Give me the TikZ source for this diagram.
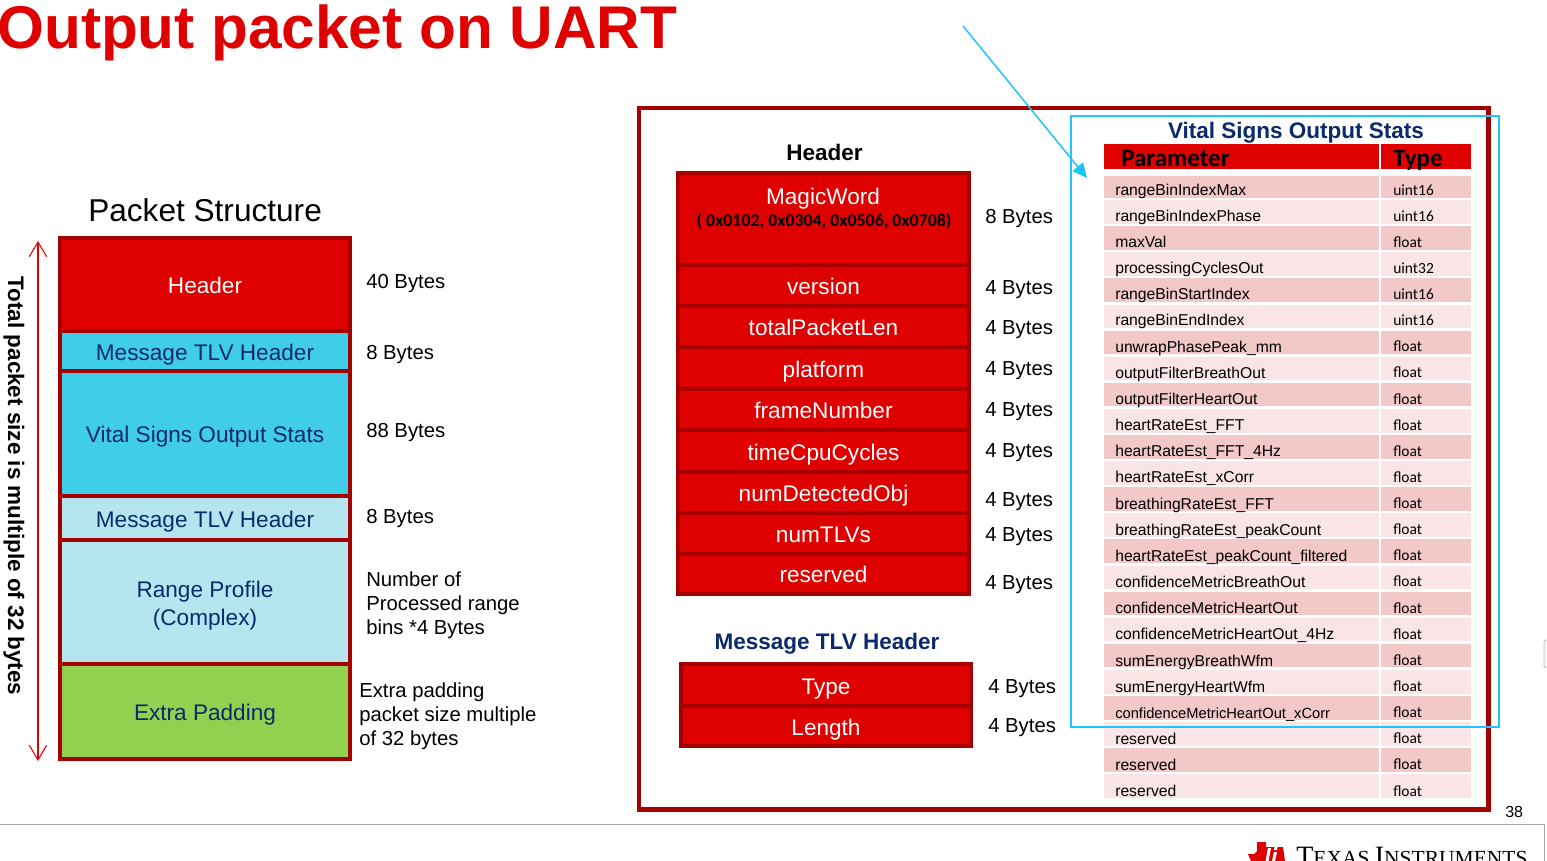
\documentclass[tikz,border=0pt]{standalone}
\usepackage{fontspec}
\setmainfont{Liberation Sans}
\newfontfamily\carl{Carlito}
\newfontfamily\serf{Liberation Serif}
\usetikzlibrary{arrows.meta}
\definecolor{tired}{HTML}{DF0000}
\definecolor{tidark}{HTML}{A50000}
\definecolor{ticyan}{HTML}{3FCDE8}
\definecolor{tilight}{HTML}{B5E5EF}
\definecolor{tigreen}{HTML}{92D14F}
\definecolor{tinavy}{HTML}{0B2A6B}
\definecolor{rowa}{HTML}{F2C8C8}
\definecolor{rowb}{HTML}{F9E5E5}
\definecolor{linecyan}{HTML}{1AC6FF}
\newcommand\px[1]{\fontsize{\fpeval{#1*0.75}pt}{\fpeval{#1*0.9}pt}\selectfont}
\newcommand\bx[7]{%
  \pgfmathsetmacro\bxw{(#4-#2)*0.75}%
  \pgfmathsetmacro\bxh{(#5-#3)*0.75}%
  \node[#6,minimum width=\bxw pt,minimum height=\bxh pt] (#1) at ({(#2+#4)/2},{(#3+#5)/2}) {#7};}
\tikzset{
  cell/.style={draw=tidark,line width=3pt,inner sep=0pt,outer sep=0pt,align=center,font=\px{22.6},text height=13.5pt,text depth=0pt},
  redcell/.style={cell,fill=tired,text=white},
  cyancell/.style={cell,fill=ticyan,text=tinavy},
  lightcell/.style={cell,fill=tilight,text=tinavy},
  greencell/.style={cell,fill=tigreen,text=tinavy},
  lbl/.style={anchor=base west,inner sep=0pt,font=\px{20.3},text=black},
  rowcell/.style={inner sep=0pt,outer sep=0pt},
  parm/.style={anchor=base west,inner sep=0pt,font=\px{15.7}},
  typ/.style={anchor=base west,inner sep=0pt,font=\carl\px{15.5}},
  headtxt/.style={anchor=base west,inner sep=0pt,font=\carl\bfseries\px{25}},
  ttl/.style={anchor=base,inner sep=0pt,font=\bfseries\px{22.5}},
}
\begin{document}
\begin{tikzpicture}[x=0.75pt,y=-0.75pt]
\useasboundingbox (0,0) rectangle (1547,861);
\clip (0,0) rectangle (1547,861);
\fill[white] (0,0) rectangle (1547,861);
% title
\node[anchor=base west,inner sep=0pt,text=tired,font=\bfseries\px{60.3}] (title) at (-3,48.5) {Output packet on UART};
% left stack
\node[anchor=base west,inner sep=0pt,font=\px{31.6}] (pstitle) at (88,221) {Packet Structure};
\bx{lhdr}{60}{238}{350}{331}{redcell}{Header}
\bx{lmsg}{60}{331}{350}{371}{cyancell}{Message TLV Header}
\bx{lvit}{60}{371}{350}{496}{cyancell}{Vital Signs Output Stats}
\bx{lmsgb}{60}{496}{350}{540}{lightcell}{Message TLV Header}
\bx{lrng}{60}{540}{350}{664}{lightcell}{}
\node[inner sep=0pt,text=tinavy,font=\px{22.6}] (lrnga) at (205,592) {Range Profile};
\node[inner sep=0pt,text=tinavy,font=\px{22.6}] (lrngb) at (205,620) {(Complex)};
\bx{lpad}{60}{664}{350}{759}{greencell}{Extra Padding}
\coordinate (sizetop) at (38,241);
\coordinate (sizebot) at (38,761);
\draw[tired,line width=0.8pt,{Straight Barb[length=11pt,width=13pt]}-{Straight Barb[length=11pt,width=13pt]}] (sizetop) -- (sizebot);
\node[rotate=-90,inner sep=0pt,font=\bfseries\px{22.45}] (sizetxt) at (14,486) {Total packet size is multiple of 32 bytes};
\node[lbl] (l1) at (366,288) {40 Bytes};
\node[lbl] (l2) at (366,359) {8 Bytes};
\node[lbl] (l3) at (366,437) {88 Bytes};
\node[lbl] (l4) at (366,523) {8 Bytes};
\node[lbl] (l5) at (366,586) {Number of};
\node[lbl] (l6) at (366,610) {Processed range};
\node[lbl] (l7) at (366,634) {bins *4 Bytes};
\node[lbl] (l8) at (359,697) {Extra padding};
\node[lbl] (l9) at (359,721) {packet size multiple};
\node[lbl] (l10) at (359,745) {of 32 bytes};
% big frame
\node[draw=tidark,line width=3.3pt,inner sep=0pt,minimum width=637pt,minimum height=526pt] (frame) at (1063.75,458.75) {};
% header column
\node[ttl] (hdrt) at (824.5,160) {Header};
\bx{mw}{678}{173}{969}{265}{redcell}{}
\node[inner sep=0pt,text=white,font=\px{22.6}] (mwa) at (823,199) {MagicWord};
\node[inner sep=0pt,text=black,font=\carl\bfseries\px{17.85}] (mwb) at (824,221.5) {( 0x0102, 0x0304, 0x0506, 0x0708)};
\bx{f1}{678}{265}{969}{306}{redcell}{version}
\bx{f2}{678}{306}{969}{347}{redcell}{totalPacketLen}
\bx{f3}{678}{347}{969}{389}{redcell}{platform}
\bx{f4}{678}{389}{969}{430}{redcell}{frameNumber}
\bx{f5}{678}{430}{969}{472}{redcell}{timeCpuCycles}
\bx{f6}{678}{472}{969}{513}{redcell}{numDetectedObj}
\bx{f7}{678}{513}{969}{554}{redcell}{numTLVs}
\bx{f8}{678}{554}{969}{593.5}{redcell}{reserved}
\node[lbl] (m0) at (985,223) {8 Bytes};
\node[lbl] (m1) at (985,294) {4 Bytes};
\node[lbl] (m2) at (985,334) {4 Bytes};
\node[lbl] (m3) at (985,375) {4 Bytes};
\node[lbl] (m4) at (985,416) {4 Bytes};
\node[lbl] (m5) at (985,457) {4 Bytes};
\node[lbl] (m6) at (985,506) {4 Bytes};
\node[lbl] (m7) at (985,541) {4 Bytes};
\node[lbl] (m8) at (985,589) {4 Bytes};
% TLV header
\node[ttl,text=tinavy] (tlvt) at (827,649) {Message TLV Header};
\bx{t1}{681}{664}{971}{706}{redcell}{Type}
\bx{t2}{681}{706}{971}{746}{redcell}{Length}
\node[lbl] (t1l) at (988,693) {4 Bytes};
\node[lbl] (t2l) at (988,732) {4 Bytes};
% table
\node[ttl,text=tinavy] (vst) at (1296,138) {Vital Signs Output Stats};
\bx{ph}{1103.5}{144}{1379}{169}{rowcell,fill=tired}{}
\bx{th}{1381}{144}{1471}{169}{rowcell,fill=tired}{}
\node[headtxt] (pht) at (1121,166) {Parameter};
\node[headtxt] (tht) at (1393,166) {Type};
\foreach \nm/\ty [count=\i from 0] in {
  rangeBinIndexMax/uint16,rangeBinIndexPhase/uint16,maxVal/float,processingCyclesOut/uint32,
  rangeBinStartIndex/uint16,rangeBinEndIndex/uint16,unwrapPhasePeak\_mm/float,outputFilterBreathOut/float,
  outputFilterHeartOut/float,heartRateEst\_FFT/float,heartRateEst\_FFT\_4Hz/float,heartRateEst\_xCorr/float,
  breathingRateEst\_FFT/float,breathingRateEst\_peakCount/float,heartRateEst\_peakCount\_filtered/float,
  confidenceMetricBreathOut/float,confidenceMetricHeartOut/float,confidenceMetricHeartOut\_4Hz/float,
  sumEnergyBreathWfm/float,sumEnergyHeartWfm/float,{\px{14.7}confidenceMetricHeartOut\_xCorr}/float,
  reserved/float,reserved/float,reserved/float}{
  \pgfmathsetmacro\rt{\i==0 ? 176 : 174+26.1*\i}
  \pgfmathsetmacro\rb{174+26.1*\i+23.6}
  \pgfmathsetmacro\bl{195+26.17*\i}
  \pgfmathsetmacro\blt{195+26.13*\i}
  \pgfmathtruncatemacro\odd{mod(\i,2)}
  \ifnum\odd=0 \def\rc{rowa}\else\def\rc{rowb}\fi
  \bx{pr\i}{1103.5}{\rt}{1379}{\rb}{rowcell,fill=\rc}{}
  \bx{tr\i}{1381}{\rt}{1471}{\rb}{rowcell,fill=\rc}{}
  \node[parm] (pt\i) at (1115,\bl) {\nm};
  \node[typ] (tt\i) at (1393,\blt) {\ty};
}
% cyan overlay
\node[draw=linecyan,line width=1.5pt,inner sep=0pt,minimum width=321pt,minimum height=458.25pt] (vsbox) at (1285,421.5) {};
\coordinate (arra) at (963,26);
\coordinate (arrb) at (1087,178);
\draw[linecyan,line width=1.1pt,-{Triangle[length=11pt,width=10pt]}] (arra) -- (arrb);
% footer
\node[anchor=base west,inner sep=0pt,font=\px{16}] (pgno) at (1505,817) {38};
\coordinate (fa) at (0,824.5);
\coordinate (fb) at (1544.5,824.5);
\coordinate (fc) at (1544.5,861);
\draw[black!35,line width=1pt] (fa) -- (fb) -- (fc);
\fill[black!3,draw=black!25,line width=0.6pt,rounded corners=2pt] (1544,640) rectangle (1552,668);
\node[anchor=base west,inner sep=0pt,font=\serf\px{28}] (tiname) at (1296,865) {T\px{21.5}EXAS \px{28}I\px{21.5}NSTRUMENTS};
\fill[tired] (1248,854) -- (1254,854) -- (1257,851) -- (1257,842) -- (1266,842) -- (1266,847) -- (1283,847) -- (1285,861) -- (1251,861) -- cycle;
\fill[white] (1268,848) -- (1271,848) -- (1268.5,861) -- (1265.5,861) -- cycle (1274,852) -- (1277,852) -- (1275,861) -- (1272,861) -- cycle (1274.5,847) -- (1277.5,847) -- (1277,850) -- (1274,850) -- cycle;
\end{tikzpicture}
\end{document}
